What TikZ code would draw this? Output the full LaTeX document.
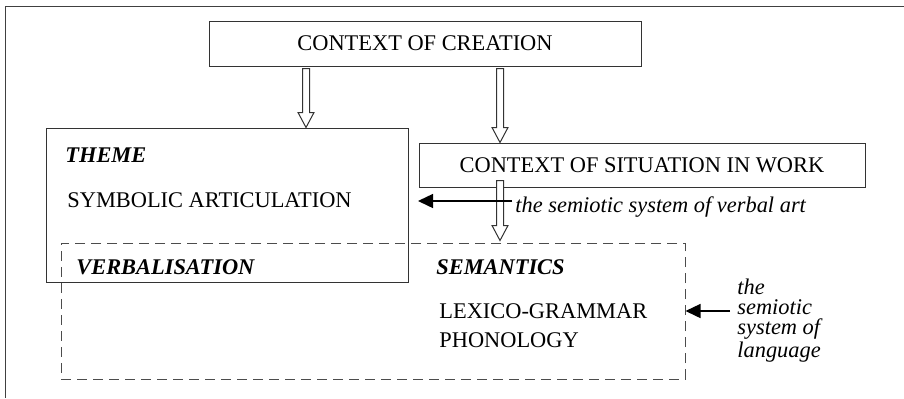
\documentclass[tikz,border=0pt]{standalone}
\usepackage{fontspec}
\setmainfont{Liberation Serif}
\usetikzlibrary{arrows.meta, positioning, calc}
\def\sz{\fontsize{11.2}{10}\selectfont}
\tikzstyle{frame}=[draw=black!75, line width=0.5pt]
\tikzstyle{box}=[draw=black!80, line width=0.5pt, rectangle, inner sep=0pt, font=\sz]
\tikzstyle{dashbox}=[draw=black!70, line width=0.5pt, dash pattern=on 5pt off 3pt, rectangle, inner sep=0pt]
\tikzstyle{txt}=[inner sep=0pt, anchor=base west, font=\sz]
\tikzstyle{head}=[txt, font=\sz\bfseries\itshape]
\tikzstyle{note}=[txt, font=\sz\itshape]
\tikzstyle{hollow}=[draw=black!80, fill=white, line width=0.5pt, line join=miter]
\tikzstyle{pointer}=[draw=black, line width=0.7pt, -{Triangle[length=7.5pt,width=7pt]}]
\newcommand{\hollowarrow}[3]{% axis, from, to
  \draw[hollow] let \p0=(#1), \p1=(#2), \p2=(#3) in
    (\x0-1.75pt,\y1) -- (\x0-1.75pt,\y2+7.5pt) -- (\x0-4pt,\y2+7.5pt) -- (\x0,\y2)
    -- (\x0+4pt,\y2+7.5pt) -- (\x0+1.75pt,\y2+7.5pt) -- (\x0+1.75pt,\y1) -- cycle;}

\begin{document}
\begin{tikzpicture}[x=0.5pt, y=-0.5pt]
  \useasboundingbox (0,0) rectangle (904,398);
  \draw[frame] (904,6) -- (5,6) -- (5,398);

  % boxes
  \node[box, minimum width=216pt, minimum height=22.5pt] (creation) at (425,43.5) {CONTEXT OF CREATION};
  \node[box, minimum width=181pt, minimum height=77pt] (theme) at (227,205) {};
  \node[box, minimum width=223pt, minimum height=22pt] (situation) at (642,165) {CONTEXT OF SITUATION IN WORK};
  \node[dashbox, minimum width=312pt, minimum height=68pt] (langsys) at (373,311) {};

  % texts
  \node[head] (themelbl) at (65,162) {THEME};
  \node[txt] (symbolic) at (67,207) {SYMBOLIC ARTICULATION};
  \node[head] (verbal) at (76,274) {VERBALISATION};
  \node[head] (semantics) at (436,274) {SEMANTICS};
  \node[txt] (lexico) at (439,318) {LEXICO-GRAMMAR};
  \node[txt] (phono) at (439,347) {PHONOLOGY};
  \node[note] (artnote) at (515,212) {the semiotic system of verbal art};
  \node[note, align=left] (langnote) at (737,357) {the\\semiotic\\system of\\language};

  % hollow arrows
  \coordinate (ax1) at (306,0);
  \coordinate (ax2) at (500,0);
  \hollowarrow{ax1}{[yshift=-1pt]creation.south}{theme.north}
  \hollowarrow{ax2}{[yshift=-1pt]creation.south}{situation.north}
  \hollowarrow{ax2}{[yshift=3.5pt]situation.south}{[yshift=1pt]langsys.north}

  % pointers
  \coordinate (arttail) at (512,201);
  \coordinate (arthead) at (418,201);
  \draw[pointer] (arttail) -- (arthead);
  \draw[pointer] ([xshift=-3.5pt]langnote.west |- langsys.east) -- (langsys.east);
\end{tikzpicture}
\end{document}
